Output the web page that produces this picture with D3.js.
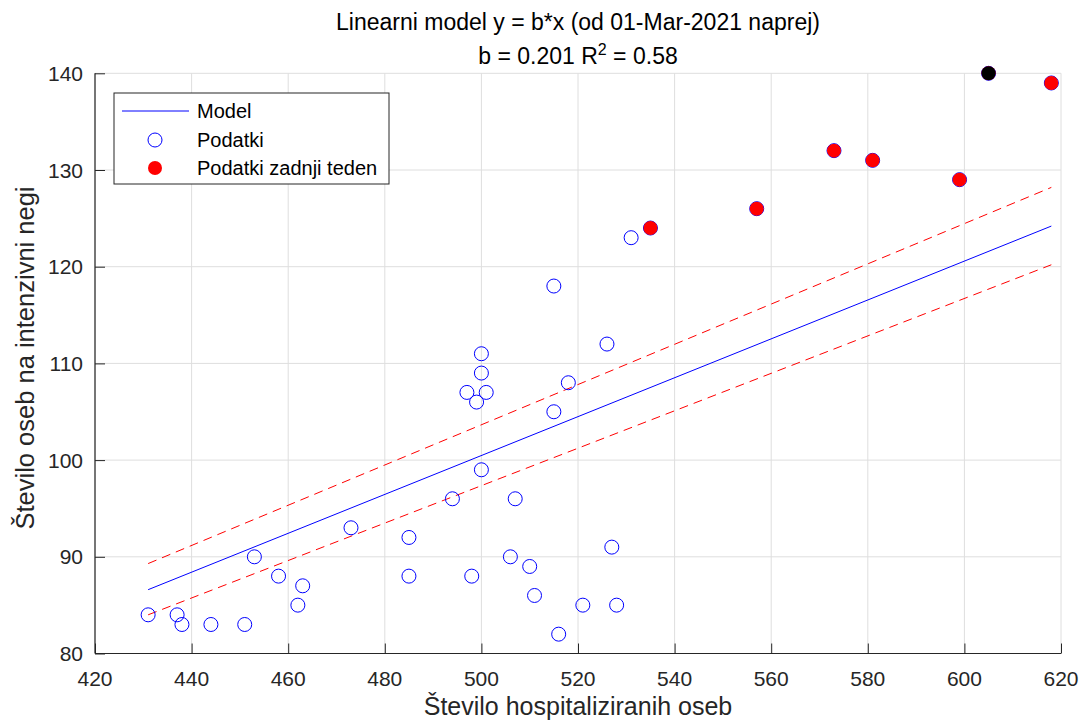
<!DOCTYPE html>
<html lang="en">
<head>
  <meta charset="UTF-8">
  <title>Linearni model</title>
  <script src="https://d3js.org/d3.v7.min.js"></script>
  <style>
    body { margin: 0; background: #fff; }
    svg text { font-family: "Liberation Sans", Arial, sans-serif; fill: #262626; }
  </style>
</head>
<body>
  <div id="chart"></div>
  <script>
    // hospitalized (x) vs intensive care (y), all days from 01-Mar-2021
    const hospX = [431, 437, 438, 444, 451, 453, 458, 462, 463, 473, 485, 485, 494, 497, 498, 499, 500, 500, 500, 501,
                   506, 507, 510, 511, 515, 515, 516, 518, 521, 526, 527, 528, 531, 535, 557, 573, 581, 599, 618, 605];
    const icuY  = [84, 84, 83, 83, 83, 90, 88, 85, 87, 93, 92, 88, 96, 107, 88, 106, 111, 109, 99, 107,
                   90, 96, 89, 86, 118, 105, 82, 108, 85, 112, 91, 85, 123, 124, 126, 132, 131, 129, 139, 140];
    // last week
    const lastX = [535, 557, 573, 581, 599, 618, 605];
    const lastY = [124, 126, 132, 131, 129, 139, 140];
    // latest day
    const latestX = [605];
    const latestY = [140];
    // model line and its bounds (end points)
    const modelX = [431, 618];
    const modelY = [86.6, 124.2];
    const upperY = [89.3, 128.2];
    const lowerY = [84.0, 120.2];

    const xTicks = [420, 440, 460, 480, 500, 520, 540, 560, 580, 600, 620];
    const yTicks = [80, 90, 100, 110, 120, 130, 140];

    const width = 1086, height = 725;
    const pLeft = 95, pRight = 1061, pTop = 73.3, pBottom = 653.5;

    const svg = d3.select("#chart").append("svg")
      .attr("width", width)
      .attr("height", height);

    const x = d3.scaleLinear().domain([420, 620]).range([pLeft, pRight]);
    const y = d3.scaleLinear().domain([80, 140]).range([pBottom, pTop]);

    // grid
    svg.append("g").selectAll("line").data(xTicks).enter().append("line")
      .attr("x1", d => x(d)).attr("x2", d => x(d))
      .attr("y1", pTop).attr("y2", pBottom)
      .attr("stroke", "#dedede").attr("stroke-width", 1);
    svg.append("g").selectAll("line").data(yTicks).enter().append("line")
      .attr("x1", pLeft).attr("x2", pRight)
      .attr("y1", d => y(d)).attr("y2", d => y(d))
      .attr("stroke", "#dedede").attr("stroke-width", 1);

    // axes (ticks pointing inward)
    const xAxis = svg.append("g")
      .attr("transform", `translate(0,${pBottom})`)
      .call(d3.axisTop(x).tickValues(xTicks).tickSize(10).tickFormat(""));
    svg.append("g").selectAll("text").data(xTicks).enter().append("text")
      .attr("x", d => x(d)).attr("y", 686)
      .attr("text-anchor", "middle")
      .style("font-size", "21px")
      .text(d => d);

    const yAxis = svg.append("g")
      .attr("transform", `translate(${pLeft},0)`)
      .call(d3.axisRight(y).tickValues(yTicks).tickSize(10).tickFormat(""));
    svg.append("g").selectAll("text").data(yTicks).enter().append("text")
      .attr("x", 83).attr("y", d => y(d) + 7.5)
      .attr("text-anchor", "end")
      .style("font-size", "21px")
      .text(d => d);

    [xAxis, yAxis].forEach(g => {
      g.select(".domain").attr("stroke", "#262626").attr("stroke-width", 1.2);
      g.selectAll(".tick line").attr("stroke", "#262626");
    });
    xAxis.select(".domain").attr("d", `M${pLeft},0H${pRight}`);
    yAxis.select(".domain").attr("d", `M0,${pBottom}V${pTop}`);

    // model and bounds
    const line = d3.line().x(d => x(d[0])).y(d => y(d[1]));
    const pairs = ys => modelX.map((v, i) => [v, ys[i]]);

    svg.append("path").attr("d", line(pairs(upperY)))
      .attr("fill", "none").attr("stroke", "#ff0000").attr("stroke-width", 1)
      .attr("stroke-dasharray", "9,6");
    svg.append("path").attr("d", line(pairs(lowerY)))
      .attr("fill", "none").attr("stroke", "#ff0000").attr("stroke-width", 1)
      .attr("stroke-dasharray", "9,6");
    svg.append("path").attr("d", line(pairs(modelY)))
      .attr("fill", "none").attr("stroke", "#0000ff").attr("stroke-width", 1);

    // data points
    svg.append("g").selectAll("circle").data(hospX).enter().append("circle")
      .attr("cx", d => x(d)).attr("cy", (d, i) => y(icuY[i])).attr("r", 7)
      .attr("fill", "none").attr("stroke", "#0000ff").attr("stroke-width", 1);
    svg.append("g").selectAll("circle").data(lastX).enter().append("circle")
      .attr("cx", d => x(d)).attr("cy", (d, i) => y(lastY[i])).attr("r", 7)
      .attr("fill", "#ff0000");
    svg.append("g").selectAll("circle").data(latestX).enter().append("circle")
      .attr("cx", d => x(d)).attr("cy", (d, i) => y(latestY[i])).attr("r", 7)
      .attr("fill", "#000000");

    // title
    svg.append("text").attr("x", (pLeft + pRight) / 2).attr("y", 30)
      .attr("text-anchor", "middle").style("font-size", "23px").style("fill", "#000")
      .text("Linearni model y = b*x (od 01-Mar-2021 naprej)");
    const t2 = svg.append("text").attr("x", (pLeft + pRight) / 2).attr("y", 64)
      .attr("text-anchor", "middle").style("font-size", "23px").style("fill", "#000");
    t2.append("tspan").text("b = 0.201 R");
    t2.append("tspan").attr("dy", -9).style("font-size", "16px").text("2");
    t2.append("tspan").attr("dy", 9).text(" = 0.58");

    // axis labels
    svg.append("text").attr("x", (pLeft + pRight) / 2).attr("y", 715)
      .attr("text-anchor", "middle").style("font-size", "25px")
      .text("Število hospitaliziranih oseb");
    svg.append("text")
      .attr("transform", `translate(34,358) rotate(-90)`)
      .attr("text-anchor", "middle").style("font-size", "25.5px")
      .text("Število oseb na intenzivni negi");

    // legend
    const lg = svg.append("g");
    lg.append("rect").attr("x", 114).attr("y", 93).attr("width", 275).attr("height", 91)
      .attr("fill", "#fff").attr("stroke", "#262626").attr("stroke-width", 1);
    lg.append("line").attr("x1", 122).attr("x2", 189).attr("y1", 111).attr("y2", 111)
      .attr("stroke", "#0000ff").attr("stroke-width", 1);
    lg.append("circle").attr("cx", 155).attr("cy", 140).attr("r", 7)
      .attr("fill", "none").attr("stroke", "#0000ff");
    lg.append("circle").attr("cx", 155).attr("cy", 168).attr("r", 7)
      .attr("fill", "#ff0000");
    [["Model", 111], ["Podatki", 140], ["Podatki zadnji teden", 168]].forEach(([t, ty]) => {
      lg.append("text").attr("x", 197).attr("y", ty + 7)
        .style("font-size", "20px").style("fill", "#000").text(t);
    });
  </script>
</body>
</html>
